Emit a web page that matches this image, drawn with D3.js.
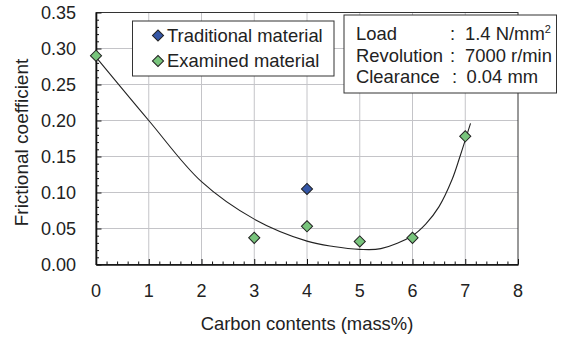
<!DOCTYPE html>
<html>
<head>
<meta charset="utf-8">
<script src="https://cdn.jsdelivr.net/npm/d3@7"></script>
<style>
  body { margin: 0; background: #fff; }
  text { font-family: "Liberation Sans", Arial, sans-serif; fill: #222; }
</style>
</head>
<body>
<script>
// data
var traditionalX = [4];
var traditionalY = [0.105];
var examinedX = [0, 3, 4, 5, 6, 7];
var examinedY = [0.29, 0.037, 0.053, 0.032, 0.037, 0.178];
// trend curve, points
var trendX = [0, 1, 2, 3, 4, 4.5, 5, 5.4, 6, 6.25, 6.5, 6.75, 6.9, 7.1];
var trendY = [0.288, 0.200, 0.115, 0.063, 0.0325, 0.025, 0.021, 0.022, 0.040, 0.056, 0.080, 0.118, 0.150, 0.196];
var xTicks = [0, 1, 2, 3, 4, 5, 6, 7, 8];
var yTicks = [0, 0.05, 0.10, 0.15, 0.20, 0.25, 0.30, 0.35];
var legendLabels = ["Traditional material", "Examined material"];
var infoLabels = ["Load", "Revolution", "Clearance"];
var infoValues = ["1.4 N/mm", "7000 r/min", "0.04 mm"];

var W = 561, H = 338;
var pLeft = 96, pRight = 518, pTop = 12.5, pBottom = 264.5;
var blue = "#3456a6", green = "#78c47c";

var svg = d3.select("body").append("svg")
    .attr("width", W)
    .attr("height", H);

var x = d3.scaleLinear().domain([0, 8]).range([pLeft, pRight]);
var y = d3.scaleLinear().domain([0, 0.35]).range([pBottom, pTop]);

// grid
svg.append("g").selectAll("line").data(xTicks.slice(1, -1)).enter().append("line")
    .attr("x1", d => x(d)).attr("x2", d => x(d))
    .attr("y1", pTop).attr("y2", pBottom)
    .attr("stroke", "#c4c4c8").attr("stroke-width", 1);
svg.append("g").selectAll("line").data(yTicks.slice(1, -1)).enter().append("line")
    .attr("x1", pLeft).attr("x2", pRight)
    .attr("y1", d => y(d)).attr("y2", d => y(d))
    .attr("stroke", "#c4c4c8").attr("stroke-width", 1);

// frame
svg.append("rect")
    .attr("x", pLeft).attr("y", pTop)
    .attr("width", pRight - pLeft).attr("height", pBottom - pTop)
    .attr("fill", "none").attr("stroke", "#333").attr("stroke-width", 1);

// axes, ticks inside
var xAxis = d3.axisBottom(x).tickValues(d3.range(0, 8.001, 0.2)).tickSize(-3).tickSizeOuter(0).tickFormat("");
var gx = svg.append("g").attr("transform", "translate(0," + pBottom + ")").call(xAxis);
gx.selectAll(".tick line").filter(d => Math.abs(d - Math.round(d)) < 1e-6).attr("y2", -5.5);

var yAxis = d3.axisLeft(y).tickValues(d3.range(0, 0.3501, 0.01)).tickSize(-3).tickSizeOuter(0).tickFormat("");
var gy = svg.append("g").attr("transform", "translate(" + pLeft + ",0)").call(yAxis);
gy.selectAll(".tick line").filter(d => Math.abs(d * 20 - Math.round(d * 20)) < 1e-6).attr("x2", 5.5);

[gx, gy].forEach(function(g){
    g.select(".domain").attr("stroke", "#111").attr("stroke-width", 1.6);
    g.selectAll(".tick line").attr("stroke", "#111").attr("stroke-width", 1);
});

// tick labels
svg.append("g").selectAll("text").data(xTicks).enter().append("text")
    .attr("x", d => x(d)).attr("y", 297)
    .attr("text-anchor", "middle")
    .style("font-size", "18px")
    .text(d => d);
svg.append("g").selectAll("text").data(yTicks).enter().append("text")
    .attr("x", 76).attr("y", d => y(d) + 6.5)
    .attr("text-anchor", "end")
    .style("font-size", "18px")
    .text(d => d3.format(".2f")(d));

// axis titles
svg.append("text")
    .attr("x", x(4)).attr("y", 330)
    .attr("text-anchor", "middle")
    .style("font-size", "18.4px")
    .text("Carbon contents (mass%)");
svg.append("text")
    .attr("transform", "translate(28," + ((pTop + pBottom) / 2 + 4) + ") rotate(-90)")
    .attr("text-anchor", "middle")
    .style("font-size", "19px")
    .text("Frictional coefficient");

// trend curve
var trend = trendX.map((d, i) => [d, trendY[i]]);
svg.append("path")
    .datum(trend)
    .attr("d", d3.line().x(d => x(d[0])).y(d => y(d[1])).curve(d3.curveCatmullRom.alpha(0.5)))
    .attr("fill", "none")
    .attr("stroke", "#222")
    .attr("stroke-width", 1.1);

// markers
var diamond = d3.symbol().type(d3.symbolSquare).size(62);
function drawPoints(xs, ys, color){
    svg.append("g").selectAll("path").data(xs).enter().append("path")
        .attr("d", diamond)
        .attr("transform", (d, i) => "translate(" + x(d) + "," + y(ys[i]) + ") rotate(45)")
        .attr("fill", color)
        .attr("stroke", "#222")
        .attr("stroke-width", 1);
}
drawPoints(examinedX, examinedY, green);
drawPoints(traditionalX, traditionalY, blue);

// legend
var lg = svg.append("g");
lg.append("rect")
    .attr("x", 132.5).attr("y", 21).attr("width", 201.5).attr("height", 55)
    .attr("fill", "#fff").attr("stroke", "#333").attr("stroke-width", 1);
[blue, green].forEach(function(c, i){
    lg.append("path")
        .attr("d", diamond)
        .attr("transform", "translate(158," + (35.5 + i * 25.5) + ") rotate(45)")
        .attr("fill", c).attr("stroke", "#222").attr("stroke-width", 1);
    lg.append("text")
        .attr("x", 167).attr("y", 41.5 + i * 25.5)
        .style("font-size", "18.4px")
        .text(legendLabels[i]);
});

// condition box
var ib = svg.append("g");
ib.append("rect")
    .attr("x", 344).attr("y", 15).attr("width", 212.5).attr("height", 78)
    .attr("fill", "#fff").attr("stroke", "#333").attr("stroke-width", 1);
infoLabels.forEach(function(t, i){
    var yy = 40 + i * 21.7;
    ib.append("text").attr("x", 356).attr("y", yy).style("font-size", "18.4px").text(t);
    ib.append("text").attr("x", i == 2 ? 452 : 450).attr("y", yy).style("font-size", "18.4px").text(":");
    var v = ib.append("text").attr("x", i == 2 ? 466.5 : 465).attr("y", yy).style("font-size", "18.4px").text(infoValues[i]);
    if (i == 0) v.append("tspan").attr("dy", -7).style("font-size", "11px").text("2");
});
</script>
</body>
</html>
